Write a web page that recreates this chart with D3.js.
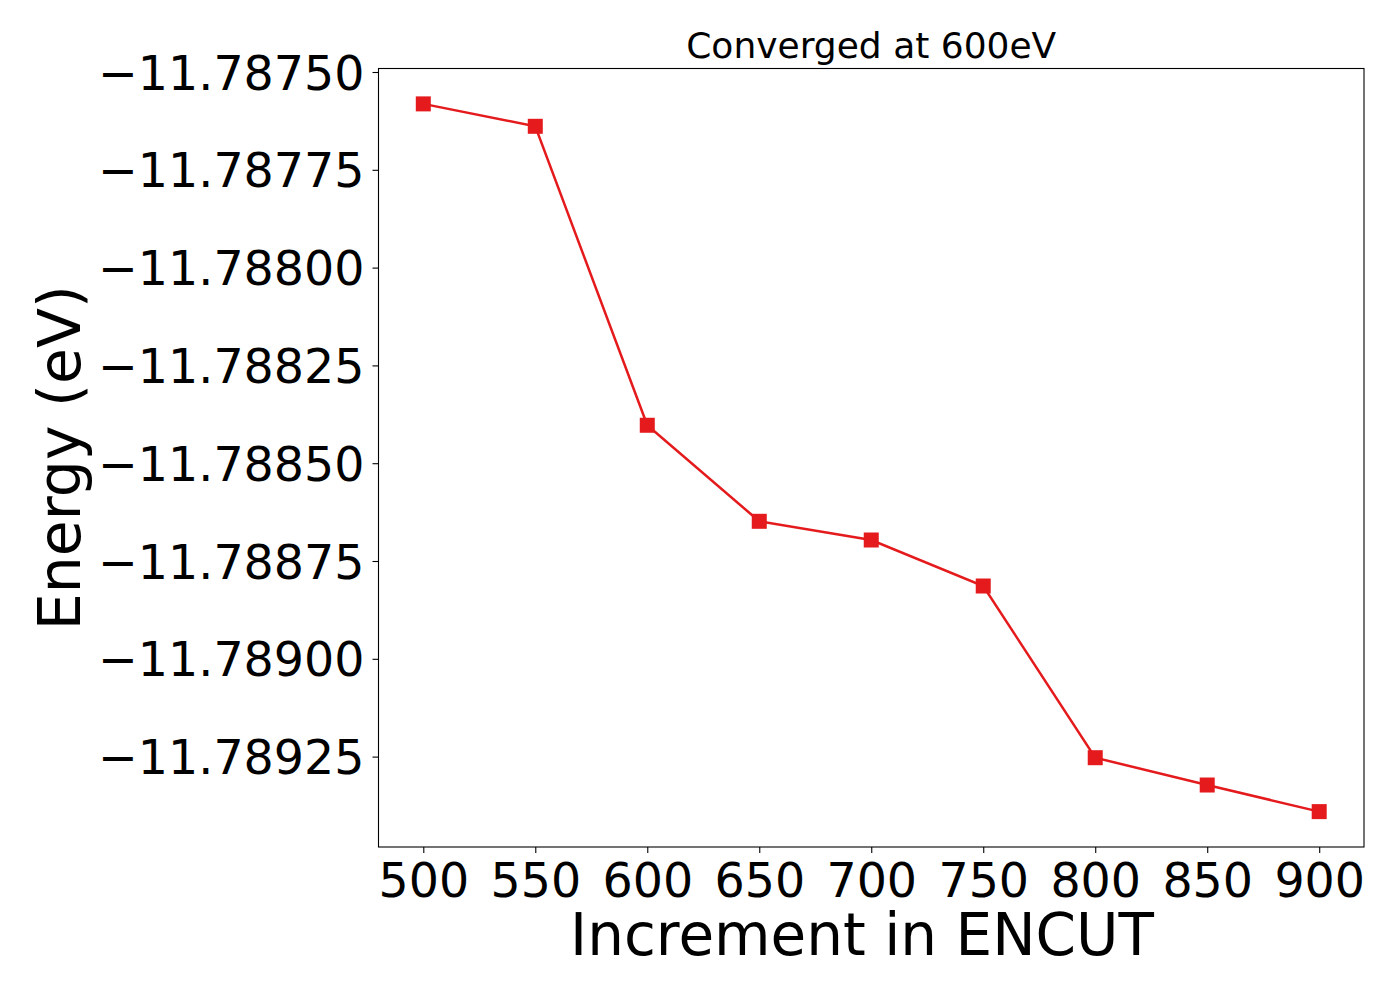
<!DOCTYPE html>
<html>
<head>
<meta charset="utf-8">
<script src="https://cdn.jsdelivr.net/npm/d3@7"></script>
<style>
  html, body { margin: 0; padding: 0; background: #fff; }
  svg { display: block; font-family: "DejaVu Sans", sans-serif; }
</style>
</head>
<body>
<svg id="chart" width="1400" height="1000"></svg>
<script>
// ---- data ----
const encut = [500, 550, 600, 650, 700, 750, 800, 850, 900];
const energy = [-11.7875815, -11.7876388, -11.788403, -11.7886485, -11.7886963, -11.7888139, -11.7892528, -11.7893226, -11.7893906];
const xTicks = [500, 550, 600, 650, 700, 750, 800, 850, 900];
const yTicks = [-11.78750, -11.78775, -11.78800, -11.78825, -11.78850, -11.78875, -11.78900, -11.78925];
const titleText = "Converged at 600eV";
const xLabel = "Increment in ENCUT";
const yLabel = "Energy (eV)";

// ---- layout ----
const L = 378.5, R = 1364, T = 68.5, B = 847;
const svg = d3.select("#chart");

const xMin = d3.min(encut), xMax = d3.max(encut);
const xPad = (xMax - xMin) * 0.05;
const yMin = d3.min(energy), yMax = d3.max(energy);
const yPad = (yMax - yMin) * 0.05;

const x = d3.scaleLinear().domain([xMin - xPad, xMax + xPad]).range([L, R]);
const y = d3.scaleLinear().domain([yMin - yPad, yMax + yPad]).range([B, T]);

const red = "#e41a1c";

// line
svg.append("path")
  .datum(encut.map((e, i) => [e, energy[i]]))
  .attr("fill", "none")
  .attr("stroke", red)
  .attr("stroke-width", 2.5)
  .attr("d", d3.line().x(d => x(d[0])).y(d => y(d[1])));

// markers
const ms = 15;
svg.append("g").selectAll("rect")
  .data(encut.map((e, i) => [e, energy[i]]))
  .join("rect")
  .attr("x", d => x(d[0]) - ms / 2)
  .attr("y", d => y(d[1]) - ms / 2)
  .attr("width", ms).attr("height", ms)
  .attr("fill", red);

// axes
const fmt = v => d3.format(".5f")(v).replace("-", "\u2212");
const xAxis = svg.append("g")
  .attr("transform", `translate(0,${B})`)
  .call(d3.axisBottom(x).tickValues(xTicks).tickSize(6).tickPadding(8).tickFormat(d3.format("d")));
const yAxis = svg.append("g")
  .attr("transform", `translate(${L},0)`)
  .call(d3.axisLeft(y).tickValues(yTicks).tickSize(6).tickPadding(8).tickFormat(fmt));

[xAxis, yAxis].forEach(g => {
  g.select(".domain").remove();
  g.selectAll(".tick line").attr("stroke", "#000").attr("stroke-width", 1.1);
  g.selectAll(".tick text").attr("fill", "#000")
    .style("font-family", "'DejaVu Sans', sans-serif").style("font-size", "47.5px");
});
xAxis.selectAll(".tick text").attr("dy", "0.76em");
yAxis.selectAll(".tick text").attr("dy", "0.36em");

// frame
svg.append("rect")
  .attr("x", L).attr("y", T).attr("width", R - L).attr("height", B - T)
  .attr("fill", "none").attr("stroke", "#000").attr("stroke-width", 1.1);

// title
svg.append("text")
  .attr("x", (L + R) / 2).attr("y", 58)
  .attr("text-anchor", "middle")
  .style("font-size", "36px")
  .text(titleText);

// x label
svg.append("text")
  .attr("x", 862).attr("y", 955)
  .attr("text-anchor", "middle")
  .style("font-size", "58px")
  .text(xLabel);

// y label
svg.append("text")
  .attr("transform", `translate(80,${(T + B) / 2}) rotate(-90)`)
  .attr("text-anchor", "middle")
  .style("font-size", "58.5px")
  .text(yLabel);
</script>
</body>
</html>
